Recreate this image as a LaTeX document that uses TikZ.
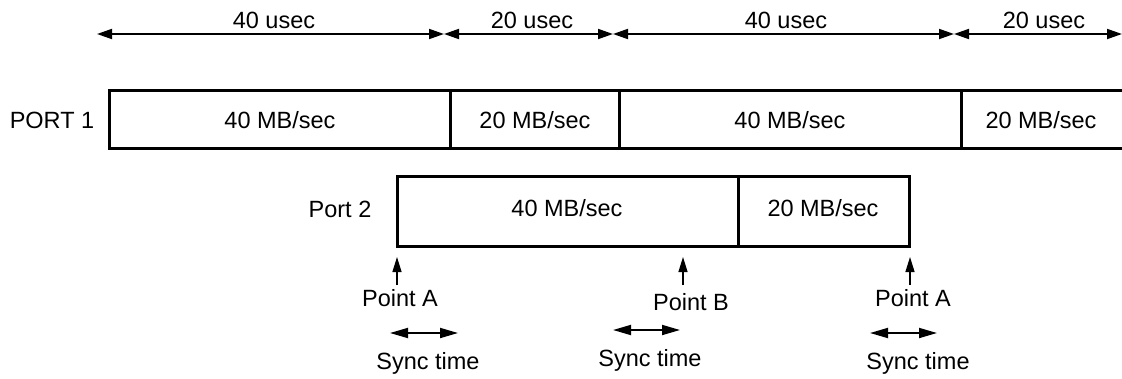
\documentclass[tikz,border=0pt]{standalone}
\usepackage{fontspec}
\setmainfont{Liberation Sans}
\usetikzlibrary{arrows.meta}
\begin{document}
\begin{tikzpicture}[x=1pt,y=-1pt,
  txt/.style={font=\fontsize{23.5}{26}\selectfont,inner sep=0pt,anchor=base},
  box/.style={line width=3pt,line join=miter},
  dimarrow/.style={line width=1.8pt,{Triangle[length=15pt,width=10pt]}-{Triangle[length=15pt,width=10pt]}},
  uparrow/.style={line width=1.3pt,-{Triangle[length=15pt,width=9pt]}},
  syncarrow/.style={line width=1.8pt,{Triangle[length=18pt,width=10pt]}-{Triangle[length=18pt,width=10pt]}}]
\useasboundingbox (0,0) rectangle (1122,378);
% top time scale
\coordinate (t0) at (97,34);
\coordinate (t1) at (444,34);
\coordinate (t2) at (613,34);
\coordinate (t3) at (954,34);
\coordinate (t4) at (1122,34);
\draw[dimarrow] (t0) -- (t1);
\draw[dimarrow] (t1) -- (t2);
\draw[dimarrow] (t2) -- (t3);
\draw[dimarrow] (t3) -- (t4);
\node[txt] (u1) at (274,28) {40 usec};
\node[txt] (u2) at (532,28) {20 usec};
\node[txt] (u3) at (786,28) {40 usec};
\node[txt] (u4) at (1044,28) {20 usec};
% PORT 1
\node[txt] (p1) at (52,128) {PORT 1};
\draw[box] (1122,90) -- (109,90) -- (109,148) -- (1122,148);
\draw[box] (450,90) -- (450,148);
\draw[box] (619,90) -- (619,148);
\draw[box] (961,90) -- (961,148);
\node[txt] (c1) at (280,128) {40 MB/sec};
\node[txt] (c2) at (535,128) {20 MB/sec};
\node[txt] (c3) at (790,128) {40 MB/sec};
\node[txt] (c4) at (1041,128) {20 MB/sec};
% Port 2
\node[txt] (p2) at (340,217) {Port 2};
\draw[box] (397,176) rectangle (909,246);
\draw[box] (738,176) -- (738,246);
\node[txt] (d1) at (567,216) {40 MB/sec};
\node[txt] (d2) at (823,216) {20 MB/sec};
% points
\coordinate (a1s) at (397,285);
\coordinate (a1t) at (397,257);
\coordinate (bs) at (683,285);
\coordinate (bt) at (683,257);
\coordinate (a2s) at (910,285);
\coordinate (a2t) at (910,257);
\draw[uparrow] (a1s) -- (a1t);
\draw[uparrow] (bs) -- (bt);
\draw[uparrow] (a2s) -- (a2t);
\node[txt] (pa1) at (400,306) {Point A};
\node[txt] (pb) at (691,310) {Point B};
\node[txt] (pa2) at (913,306) {Point A};
% sync
\coordinate (s1a) at (390,333);
\coordinate (s1b) at (458,333);
\coordinate (s2a) at (613,330);
\coordinate (s2b) at (680,330);
\coordinate (s3a) at (870,333);
\coordinate (s3b) at (937,333);
\draw[syncarrow] (s1a) -- (s1b);
\draw[syncarrow] (s2a) -- (s2b);
\draw[syncarrow] (s3a) -- (s3b);
\node[txt] (st1) at (428,369) {Sync time};
\node[txt] (st2) at (650,366) {Sync time};
\node[txt] (st3) at (918,369) {Sync time};
\end{tikzpicture}
\end{document}
